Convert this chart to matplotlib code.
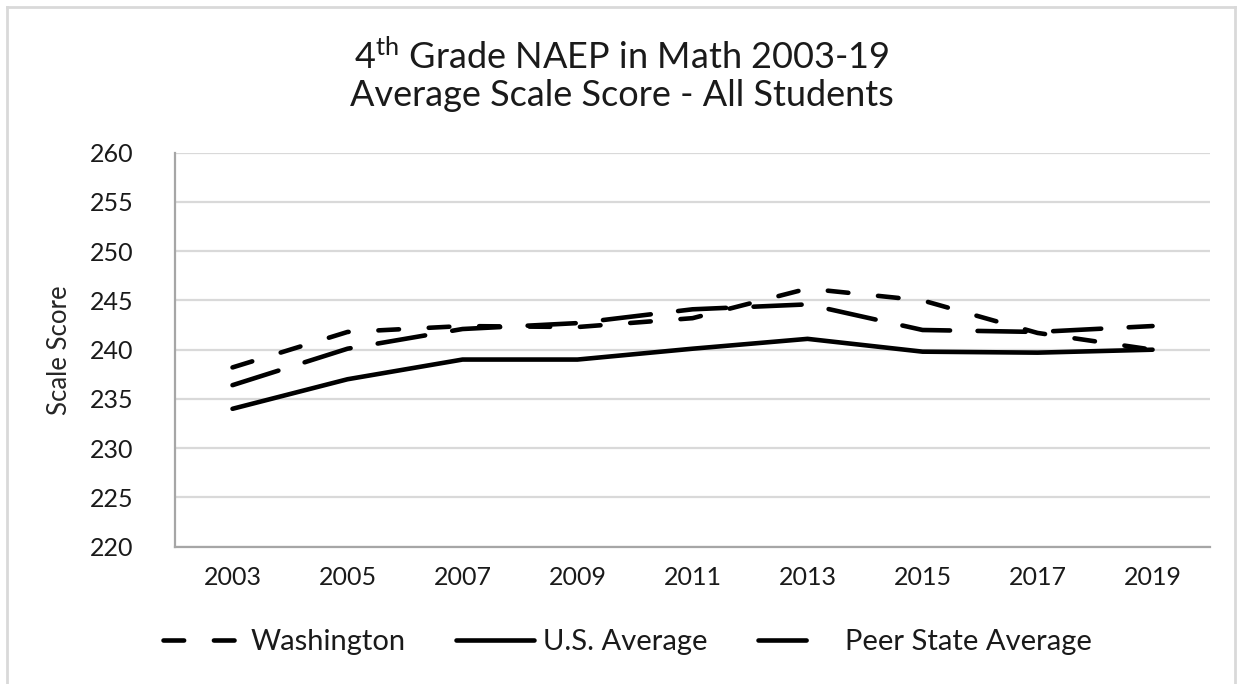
import matplotlib
matplotlib.use("Agg")
import matplotlib.pyplot as plt
from matplotlib.lines import Line2D

plt.rcParams['font.family'] = ['Lato', 'DejaVu Sans']
plt.rcParams['mathtext.fontset'] = 'custom'
plt.rcParams['mathtext.rm'] = 'Lato'
plt.rcParams['mathtext.it'] = 'Lato'

years = ["2003", "2005", "2007", "2009", "2011", "2013", "2015", "2017", "2019"]
washington = [238.2, 241.8, 242.4, 242.3, 243.2, 246.2, 245.0, 241.7, 240.0]
us_average = [234.0, 237.0, 239.0, 239.0, 240.1, 241.1, 239.8, 239.7, 240.0]
peer_average = [236.4, 240.1, 242.1, 242.7, 244.1, 244.6, 242.0, 241.8, 242.4]
y_ticks = [220, 225, 230, 235, 240, 245, 250, 255, 260]
series_names = ['Washington', 'U.S. Average', 'Peer State Average']

fig = plt.figure(figsize=(12.43, 6.84), dpi=100)
ax = fig.add_axes([0.1408, 0.2007, 0.8327, 0.5761])

x = list(range(len(years)))
lw = 3.3
wa_dash = (4.5, 6.5)
peer_dash = (10.5, 6)
ax.plot(x, washington, color='black', lw=lw, dash_capstyle='round',
        dashes=wa_dash, zorder=3)
ax.plot(x, us_average, color='black', lw=lw, solid_capstyle='round', zorder=3)
ax.plot(x, peer_average, color='black', lw=lw, dash_capstyle='round',
        dashes=peer_dash, zorder=3)

ax.set_xlim(-0.5, len(years) - 0.5)
ax.set_ylim(220, 260)
ax.set_yticks(y_ticks)
ax.set_xticks(x)
ax.set_xticklabels(years)
ax.tick_params(axis='both', length=0, labelsize=18, colors='#1a1a1a')
ax.tick_params(axis='y', pad=30)
ax.tick_params(axis='x', pad=14)
ax.grid(axis='y', color='#d9d9d9', lw=1.6, zorder=0)
for s in ['top', 'right']:
    ax.spines[s].set_visible(False)
for s in ['left', 'bottom']:
    ax.spines[s].set_color('#a6a6a6')
    ax.spines[s].set_linewidth(1.6)
ax.set_ylabel('Scale Score', fontsize=18.5, color='#262626', labelpad=13)

fig.text(0.5, 1 - 57 / 684, r'4$^{\mathrm{th}}$ Grade NAEP in Math 2003-19',
         ha='center', va='center', fontsize=26, color='#1a1a1a')
fig.text(0.5, 1 - 96 / 684, 'Average Scale Score - All Students',
         ha='center', va='center', fontsize=26, color='#1a1a1a')

handles = [
    Line2D([], [], color='black', lw=lw, dash_capstyle='round', dashes=wa_dash),
    Line2D([], [], color='black', lw=lw, solid_capstyle='round'),
    Line2D([], [], color='black', lw=lw, dash_capstyle='round', dashes=(10.5, 40)),
]
leg = fig.legend(handles, series_names, loc='center',
                 bbox_to_anchor=(0.505, 1 - 642 / 684), ncol=3,
                 frameon=False, fontsize=21, handlelength=2.67,
                 handletextpad=0.3, columnspacing=1.75)
for t in leg.get_texts():
    t.set_color('#1a1a1a')

# outer border
c = '#d9d9d9'
fig.add_artist(Line2D([7 / 1243, 7 / 1243], [0, 1 - 7 / 684], color=c, lw=2, transform=fig.transFigure))
fig.add_artist(Line2D([1235 / 1243, 1235 / 1243], [0, 1 - 7 / 684], color=c, lw=2, transform=fig.transFigure))
fig.add_artist(Line2D([7 / 1243, 1235 / 1243], [1 - 7 / 684, 1 - 7 / 684], color=c, lw=2, transform=fig.transFigure))

fig.savefig('out.png', dpi=100)
